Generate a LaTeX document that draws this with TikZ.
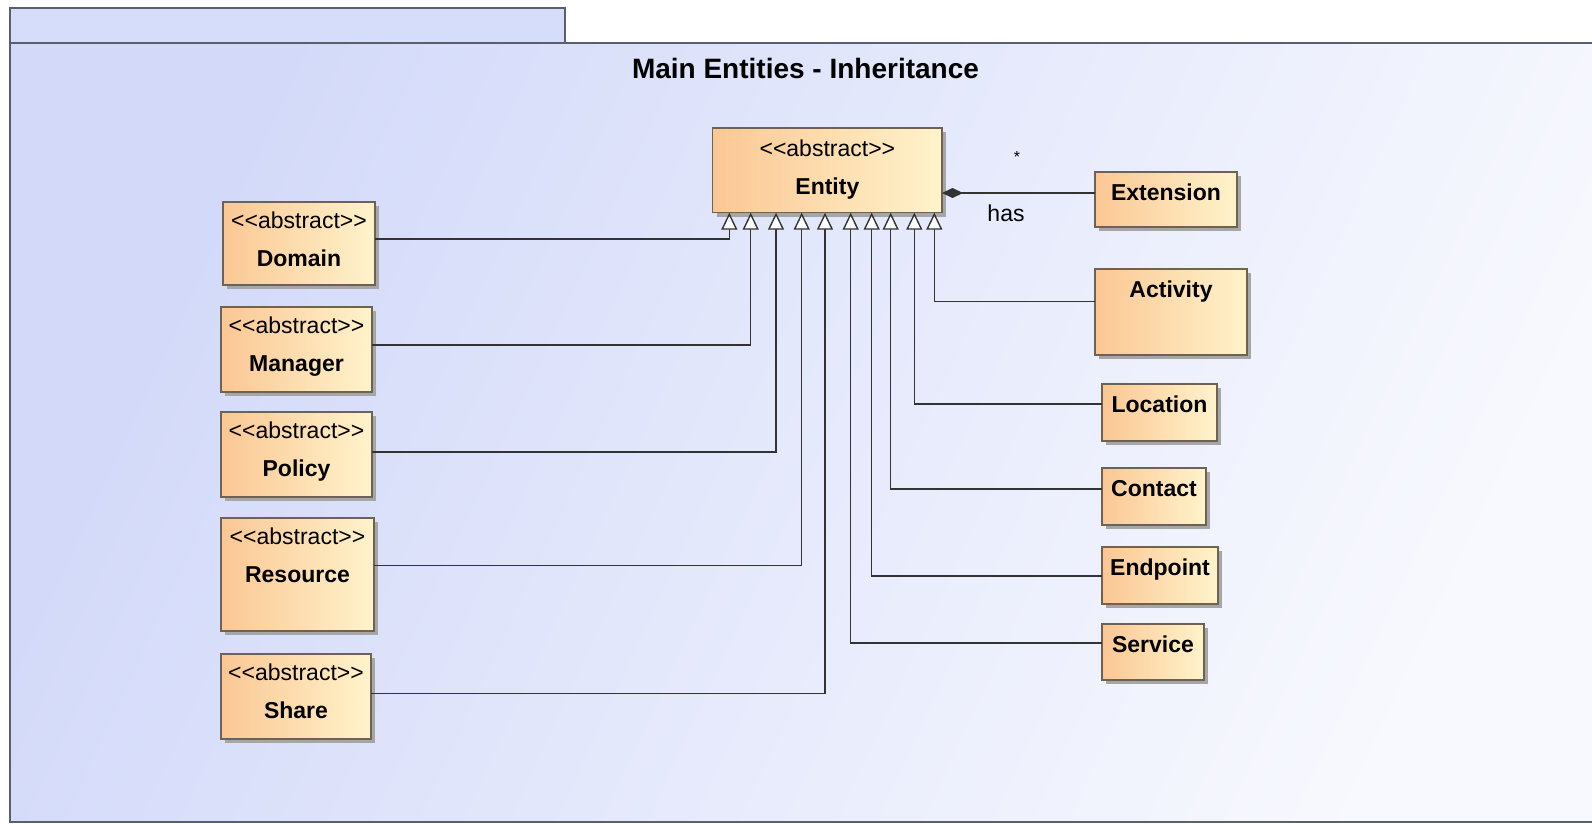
\documentclass[tikz,border=0pt]{standalone}
\usepackage{fontspec}
\setmainfont{Liberation Sans}
\usetikzlibrary{arrows.meta,shadows}

\definecolor{frameline}{HTML}{5A5F6E}
\definecolor{bgA}{HTML}{D2D9F9}
\definecolor{bgB}{HTML}{F8F9FE}
\definecolor{tabfill}{HTML}{D6DDFA}
\definecolor{clsA}{HTML}{FBC794}
\definecolor{clsB}{HTML}{FFF3CB}
\definecolor{clsline}{HTML}{6E6252}
\definecolor{wire}{HTML}{333333}

\tikzset{
  cls/.style={draw=clsline, line width=1.3pt, left color=clsA, right color=clsB,
    inner sep=0pt, outer sep=0pt,
    general shadow={fill=black!35, shadow xshift=4pt, shadow yshift=-4pt}},
  stereo/.style={anchor=base, inner sep=0pt, font=\fontsize{23}{26}\selectfont},
  cname/.style={anchor=base, inner sep=0pt, font=\fontsize{23}{26}\selectfont\bfseries},
  lbl/.style={anchor=base, inner sep=0pt, font=\fontsize{23}{26}\selectfont},
  title/.style={anchor=base, inner sep=0pt, font=\fontsize{28}{32}\selectfont\bfseries},
  gen/.style={draw=wire, line width=1.4pt,
    -{Triangle[length=17pt, width=16pt, fill=white]}},
  comp/.style={draw=wire, line width=1.4pt,
    {Diamond[length=21pt, width=10pt, fill=wire]}-},
}

% plain angle brackets, kept apart so the font mapping leaves them alone
\newcommand{\absstereo}{\textless\kern0pt\textless abstract\textgreater\kern0pt\textgreater}

\begin{document}
\begin{tikzpicture}[x=1pt, y=-1pt]
\useasboundingbox (0,0) rectangle (1592,824);

% package frame with its name tab
\fill[tabfill] (10,8) rectangle (565,43);
\shade[top color=bgA, bottom color=bgB, shading angle=65] (10,43) rectangle (1600,822);
\draw[frameline, line width=1.6pt] (10,43) -- (10,8) -- (565,8) -- (565,43);
\draw[frameline, line width=1.6pt] (1600,43) -- (10,43) -- (10,822) -- (1600,822);

\node[title] (title) at (805.5,79) {Main Entities - Inheritance};

% central abstract class
\node[cls, minimum width=229.3pt, minimum height=84.7pt] (ent) at (827.35,170.35) {};
\node[stereo] (ent-s) at ([yshift=-29pt]ent.north) {\absstereo};
\node[cname] (ent-n) at ([yshift=-66pt]ent.north) {Entity};

% abstract subclasses on the left
\node[cls, minimum width=152pt, minimum height=83pt] (dom) at (299,243.5) {};
\node[cls, minimum width=151pt, minimum height=85pt] (man) at (296.5,349.5) {};
\node[cls, minimum width=151pt, minimum height=85pt] (pol) at (296.5,454.5) {};
\node[cls, minimum width=153pt, minimum height=113pt] (res) at (297.5,574.5) {};
\node[cls, minimum width=150pt, minimum height=85pt] (sha) at (296,696.5) {};
\foreach \b/\t in {dom/Domain, man/Manager, pol/Policy, res/Resource, sha/Share} {
  \node[stereo] (\b-s) at ([yshift=-26.5pt]\b.north) {\absstereo};
  \node[cname] (\b-n) at ([yshift=-64pt]\b.north) {\t};
}

% concrete subclasses on the right
\node[cls, minimum width=142pt, minimum height=55pt] (ext) at (1166,199.5) {};
\node[cls, minimum width=152pt, minimum height=86pt] (act) at (1171,312) {};
\node[cls, minimum width=115pt, minimum height=57pt] (loc) at (1159.5,412.5) {};
\node[cls, minimum width=104pt, minimum height=57pt] (con) at (1154,496.5) {};
\node[cls, minimum width=116pt, minimum height=57pt] (enp) at (1160,575.5) {};
\node[cls, minimum width=102pt, minimum height=56pt] (svc) at (1153,652) {};
\foreach \b/\t in {ext/Extension, act/Activity, loc/Location, con/Contact, enp/Endpoint, svc/Service} {
  \node[cname] (\b-n) at ([yshift=-28pt]\b.north) {\t};
}

% generalization ports along the bottom of Entity
\foreach \i/\dx in {1/16.6, 2/38, 3/63.3, 4/89, 5/112.3, 6/138, 7/159, 8/178, 9/201.6, 10/221.6} {
  \coordinate (t\i) at ([xshift=\dx pt]ent.south west);
}

% generalizations
\draw[gen] ([yshift=4.5pt]dom.east) -| (t1);
\draw[gen] ([yshift=4.5pt]man.east) -| (t2);
\draw[gen] ([yshift=2.5pt]pol.east) -| (t3);
\draw[gen] ([yshift=9pt]res.east) -| (t4);
\draw[gen] ([yshift=3pt]sha.east) -| (t5);
\draw[gen] ([yshift=9pt]svc.west) -| (t6);
\draw[gen] ([yshift=-0.5pt]enp.west) -| (t7);
\draw[gen] ([yshift=7.5pt]con.west) -| (t8);
\draw[gen] ([yshift=8.5pt]loc.west) -| (t9);
\draw[gen] ([yshift=10.5pt]act.west) -| (t10);

% composition Entity -> Extension
\coordinate (ext-p) at ([yshift=6.5pt]ext.west);
\draw[comp] (ent.east |- ext-p) -- (ext-p);
\node[lbl, font=\fontsize{16}{18}\selectfont] (mult) at (1017,162) {*};
\node[lbl] (has) at (1006,221.7) {has};
\end{tikzpicture}
\end{document}
